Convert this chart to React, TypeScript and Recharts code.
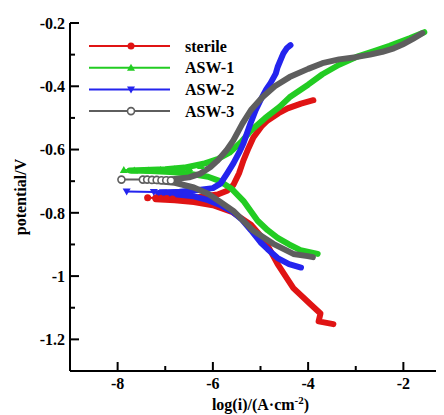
import React from 'react';
import { LineChart, Line, XAxis, YAxis, Legend } from 'recharts';

// log(i) / potential pairs (cathodic end -> Ecorr -> anodic end)
const sterileX = [-3.47, -3.78, -3.74, -3.95, -4.31, -4.64, -4.9, -5.2, -5.6, -6.0, -6.4, -6.8, -7.2, -6.8, -6.3, -5.9, -5.7, -5.57, -5.45, -5.36, -5.25, -5.15, -4.98, -4.85, -4.62, -4.43, -4.15, -3.89];
const sterileY = [-1.152, -1.143, -1.118, -1.089, -1.038, -0.962, -0.89, -0.838, -0.797, -0.776, -0.766, -0.76, -0.757, -0.752, -0.75, -0.742, -0.73, -0.712, -0.675, -0.635, -0.595, -0.562, -0.527, -0.508, -0.485, -0.47, -0.455, -0.444];

const asw1X = [-3.8, -4.16, -4.4, -4.64, -4.85, -5.06, -5.36, -5.6, -5.85, -6.1, -6.5, -6.9, -7.3, -7.75, -7.3, -7.0, -6.6, -6.2, -5.9, -5.65, -5.4, -5.2, -4.9, -4.6, -4.39, -4.0, -3.7, -3.35, -3.0, -2.6, -2.29, -1.87, -1.56];
const asw1Y = [-0.93, -0.918, -0.9, -0.879, -0.855, -0.825, -0.762, -0.725, -0.7, -0.686, -0.676, -0.671, -0.668, -0.666, -0.664, -0.662, -0.657, -0.645, -0.63, -0.61, -0.575, -0.54, -0.5, -0.465, -0.435, -0.395, -0.362, -0.332, -0.308, -0.288, -0.272, -0.248, -0.229];

const asw2X = [-4.15, -4.4, -4.64, -4.85, -5.0, -5.2, -5.4, -5.6, -5.85, -6.1, -6.4, -6.8, -7.15, -6.7, -6.3, -6.0, -5.84, -5.7, -5.57, -5.45, -5.36, -5.21, -5.1, -5.0, -4.88, -4.79, -4.68, -4.64, -4.56, -4.52, -4.45, -4.37];
const asw2Y = [-0.973, -0.962, -0.943, -0.915, -0.893, -0.855, -0.82, -0.795, -0.775, -0.76, -0.748, -0.741, -0.737, -0.733, -0.728, -0.722, -0.708, -0.675, -0.644, -0.61, -0.581, -0.517, -0.475, -0.444, -0.41, -0.39, -0.36, -0.339, -0.31, -0.296, -0.28, -0.27];

const asw3X = [-3.9, -4.01, -4.31, -4.73, -5.15, -5.57, -5.85, -6.1, -6.4, -6.8, -7.25, -6.8, -6.5, -6.26, -6.05, -5.9, -5.7, -5.57, -5.38, -5.2, -4.96, -4.7, -4.39, -4.0, -3.7, -3.35, -3.0, -2.7, -2.44, -2.2, -2.02, -1.8, -1.6];
const asw3Y = [-0.94, -0.937, -0.93, -0.898, -0.857, -0.794, -0.765, -0.74, -0.72, -0.705, -0.699, -0.693, -0.688, -0.676, -0.655, -0.635, -0.6, -0.571, -0.518, -0.475, -0.435, -0.4, -0.371, -0.345, -0.327, -0.315, -0.308, -0.3, -0.291, -0.28, -0.268, -0.25, -0.232];

// sparse points near Ecorr where the single markers are visible
const sterileTailX = [-7.37, -7.2, -7.08, -6.97, -6.85];
const sterileTailY = [-0.752, -0.753, -0.754, -0.755, -0.756];
const asw1TailX = [-7.87, -7.65, -7.35, -7.1, -6.8, -6.5, -6.25];
const asw1TailY = [-0.665, -0.666, -0.666, -0.665, -0.662, -0.658, -0.652];
const asw2TailX = [-7.81, -7.24, -7.05, -6.9, -6.7];
const asw2TailY = [-0.733, -0.734, -0.735, -0.736, -0.737];
const asw3TailX = [-7.92, -7.47, -7.38, -7.28, -7.18, -7.08, -6.98, -6.88];
const asw3TailY = [-0.695, -0.695, -0.695, -0.696, -0.696, -0.697, -0.697, -0.698];

const seriesNames = ['sterile', 'ASW-1', 'ASW-2', 'ASW-3'];
const seriesColors = ['#e01414', '#22cc22', '#2424ee', '#5e5e5e'];
const seriesShapes = ['circle', 'triUp', 'triDown', 'open'];

const xMajor = [-8, -6, -4, -2];
const xMinor = [-7, -5, -3];
const yMajor = [-1.2, -1, -0.8, -0.6, -0.4, -0.2];
const yMinor = [-1.1, -0.9, -0.7, -0.5, -0.3];

const FONT = '"Liberation Serif", "Times New Roman", serif';
const Y_GAP = 5;
const X_GAP = 6;

const zip = (xs: number[], ys: number[]) => xs.map((x, i) => ({ x, y: ys[i] }));

const bodies = [zip(sterileX, sterileY), zip(asw1X, asw1Y), zip(asw2X, asw2Y), zip(asw3X, asw3Y)];
const tails = [
  zip(sterileTailX, sterileTailY),
  zip(asw1TailX, asw1TailY),
  zip(asw2TailX, asw2TailY),
  zip(asw3TailX, asw3TailY),
];

const isIn = (list: number[], v: number) => list.some((m) => Math.abs(m - v) < 1e-6);

const marker = (shape: string, cx: number, cy: number, color: string, key?: any) => {
  if (shape === 'triUp') {
    return <path key={key} d={`M${cx},${cy - 4}L${cx + 4},${cy + 3}L${cx - 4},${cy + 3}Z`} fill={color} />;
  }
  if (shape === 'triDown') {
    return <path key={key} d={`M${cx},${cy + 4}L${cx + 4},${cy - 3}L${cx - 4},${cy - 3}Z`} fill={color} />;
  }
  if (shape === 'open') {
    return <circle key={key} cx={cx} cy={cy} r={3.5} fill="#fff" stroke={color} strokeWidth={1.6} />;
  }
  return <circle key={key} cx={cx} cy={cy} r={3.5} fill={color} />;
};

const YTick = (props: any) => {
  const { x, y, payload } = props;
  const v = payload.value;
  const major = isIn(yMajor, v);
  const ax = x + Y_GAP;
  return (
    <g>
      <line x1={ax} x2={ax + (major ? 9 : 5)} y1={y} y2={y} stroke="#000" strokeWidth={2} />
      {major && (
        <text x={x} y={y} dy="0.36em" textAnchor="end" fontFamily={FONT} fontWeight="bold" fontSize={16} fill="#000">
          {String(v)}
        </text>
      )}
    </g>
  );
};

const XTick = (props: any) => {
  const { x, y, payload } = props;
  const v = payload.value;
  const major = isIn(xMajor, v);
  const ay = y - X_GAP;
  return (
    <g>
      <line x1={x} x2={x} y1={ay} y2={ay - (major ? 9 : 5)} stroke="#000" strokeWidth={2} />
      {major && (
        <text x={x} y={y} dy="0.72em" textAnchor="middle" fontFamily={FONT} fontWeight="bold" fontSize={16} fill="#000">
          {String(v)}
        </text>
      )}
    </g>
  );
};

const XLabel = (props: any) => {
  const vb = props.viewBox;
  return (
    <text x={vb.x + vb.width / 2} y={vb.y + 39} textAnchor="middle" fontFamily={FONT} fontWeight="bold" fontSize={16} fill="#000">
      log(i)/(A·cm
      <tspan dy={-6} fontSize={11}>-2</tspan>
      <tspan dy={6}>)</tspan>
    </text>
  );
};

const YLabel = (props: any) => {
  const vb = props.viewBox;
  const cx = 18;
  const cy = vb.y + vb.height / 2;
  return (
    <text x={cx} y={cy} transform={`rotate(-90, ${cx}, ${cy})`} textAnchor="middle" fontFamily={FONT} fontWeight="bold" fontSize={16} fill="#000">
      potential/V
    </text>
  );
};

const renderLegend = () => (
  <svg width={170} height={90}>
    {seriesNames.map((name, i) => {
      const y = 11 + i * 21.7;
      return (
        <g key={name}>
          <line x1={0} x2={81} y1={y} y2={y} stroke={seriesColors[i]} strokeWidth={2} />
          {marker(seriesShapes[i], 42, y, seriesColors[i])}
          <text x={96} y={y} dy="0.36em" fontFamily={FONT} fontWeight="bold" fontSize={16} fill="#000">
            {name}
          </text>
        </g>
      );
    })}
  </svg>
);

export default function App() {
  const xTicks = [...xMajor, ...xMinor].sort((a, b) => a - b);
  const yTicks = [...yMajor, ...yMinor].sort((a, b) => a - b);
  return (
    <div style={{ width: 436, height: 407, overflow: 'hidden' }}>
      <LineChart width={460} height={407} margin={{ top: 15, right: 17, bottom: 0, left: 0 }}>
        <XAxis
          dataKey="x"
          type="number"
          domain={[-9, -1]}
          ticks={xTicks}
          allowDataOverflow
          height={44}
          tickSize={0}
          tickMargin={X_GAP}
          tickLine={false}
          tick={(p: any) => <XTick {...p} />}
          axisLine={{ stroke: '#000', strokeWidth: 2 }}
          label={<XLabel />}
        />
        <XAxis
          xAxisId="top"
          orientation="top"
          type="number"
          domain={[-9, -1]}
          height={0}
          tick={false}
          tickLine={false}
          axisLine={{ stroke: '#000', strokeWidth: 2 }}
        />
        <YAxis
          type="number"
          domain={[-1.3, -0.2]}
          ticks={yTicks}
          allowDataOverflow
          width={62}
          tickSize={0}
          tickMargin={Y_GAP}
          tickLine={false}
          tick={(p: any) => <YTick {...p} />}
          axisLine={{ stroke: '#000', strokeWidth: 2 }}
          label={<YLabel />}
        />
        <Legend
          layout="vertical"
          align="center"
          verticalAlign="middle"
          content={renderLegend}
          wrapperStyle={{ position: 'absolute', left: 81, top: 27, width: 170, height: 90 }}
        />
        {bodies.map((d, i) => [
          <Line
            key={`tail-${i}`}
            data={tails[i]}
            dataKey="y"
            stroke={seriesColors[i]}
            strokeWidth={2}
            isAnimationActive={false}
            legendType="none"
            dot={(p: any) => marker(seriesShapes[i], p.cx, p.cy, seriesColors[i], `t${i}-${p.index}`)}
            activeDot={false}
          />,
          <Line
            key={`body-${i}`}
            data={d}
            dataKey="y"
            name={seriesNames[i]}
            type="linear"
            stroke={seriesColors[i]}
            strokeWidth={6}
            strokeLinecap="round"
            strokeLinejoin="round"
            isAnimationActive={false}
            dot={false}
            activeDot={false}
          />,
        ])}
      </LineChart>
    </div>
  );
}
